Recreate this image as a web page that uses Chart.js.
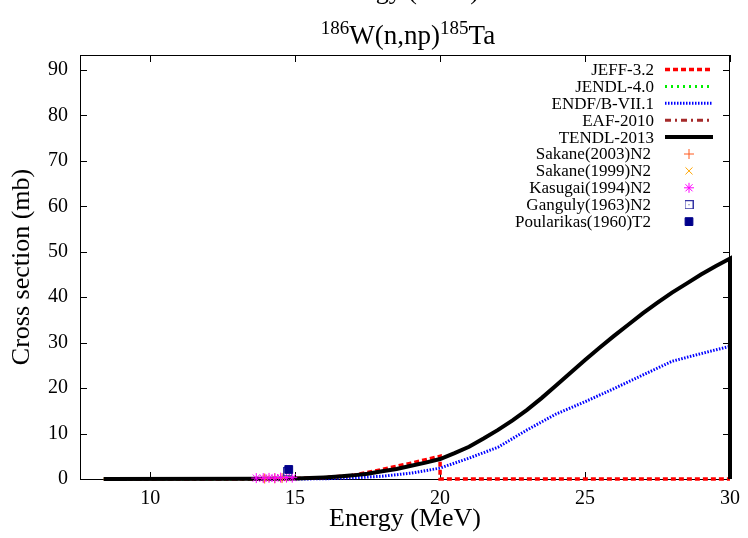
<!DOCTYPE html>
<html>
<head>
<meta charset="utf-8">
<script src="https://cdn.jsdelivr.net/npm/chart.js@4.4.0/dist/chart.umd.min.js"></script>
<style>
  html, body { margin:0; padding:0; background:#fff; }
</style>
</head>
<body>
<canvas id="chart" width="748" height="538"></canvas>
<script>
// tick labels
const xTicks = [10, 15, 20, 25, 30];
const yTicks = [0, 10, 20, 30, 40, 50, 60, 70, 80, 90];

// evaluations (energy in MeV, cross section in mb)
const jeffE  = [8.4, 15, 16, 17, 18, 19, 20, 20, 30];
const jeffXs = [0, 0.1, 0.3, 0.8, 2.1, 3.5, 5.0, 0, 0];
const jendlE  = [8.4, 14.5];
const jendlXs = [0, 0];
const endfE  = [15, 16, 17, 18, 19, 20, 21, 22, 23, 24, 25, 26, 27, 28, 29, 30];
const endfXs = [0, 0.05, 0.25, 0.6, 1.3, 2.4, 4.6, 7.0, 10.8, 14.3, 17.0, 19.9, 22.9, 25.9, 27.6, 29.2];
const eafE  = [8.4, 14.5];
const eafXs = [0, 0];
const tendlE  = [8.4, 14, 15, 15.5, 16, 16.5, 17, 17.5, 18, 18.5, 19, 19.5, 20, 20.5, 21, 21.5, 22, 22.5, 23, 23.5, 24, 24.5, 25, 25.5, 26, 26.5, 27, 27.5, 28, 28.5, 29, 29.5, 30, 30];
const tendlXs = [0, 0.03, 0.1, 0.2, 0.35, 0.55, 0.8, 1.15, 1.7, 2.2, 2.9, 3.6, 4.4, 5.7, 7.1, 8.9, 10.8, 12.9, 15.2, 17.8, 20.6, 23.4, 26.2, 28.9, 31.5, 34.0, 36.5, 38.8, 41.0, 43.0, 45.0, 46.8, 48.5, 0];

// measurements
const sakane03E  = [13.95, 14.3, 14.55];
const sakane03Xs = [0.1, 0.15, 0.2];
const sakane99E  = [14.0, 14.6];
const sakane99Xs = [0.1, 0.15];
const kasugaiE  = [13.66, 13.9, 14.1, 14.3, 14.5, 14.7, 14.9];
const kasugaiXs = [0.2, 0.2, 0.25, 0.2, 0.3, 0.3, 0.3];
const gangulyE  = [14.75];
const gangulyXs = [1.6];
const poulE  = [14.78];
const poulXs = [2.1];

const pts = (xs, ys) => xs.map((x, i) => ({x, y: ys[i]}));

// box with a dot for Ganguly
const gBox = document.createElement('canvas');
gBox.width = 9; gBox.height = 9;
const g = gBox.getContext('2d');
g.strokeStyle = '#3434a4'; g.lineWidth = 1;
g.strokeRect(0.5, 0.5, 8, 8);
g.fillStyle = '#3434a4'; g.fillRect(4, 4, 1, 1);

const line = (label, data, color, width, dash) => ({
  label, data, borderColor: color, backgroundColor: color, borderWidth: width,
  borderDash: dash, showLine: true, pointRadius: 0, tension: 0, clip: 6
});
const mark = (label, data, color, style, r, fill) => ({
  label, data, borderColor: color, backgroundColor: fill || 'transparent',
  pointStyle: style, pointRadius: r, pointBorderWidth: 1, showLine: false, clip: 6
});

const datasets = [
  line('JEFF-3.2', pts(jeffE, jeffXs), '#ff0000', 3.5, [5, 3]),
  line('JENDL-4.0', pts(jendlE, jendlXs), '#00ee00', 3, [2, 4]),
  line('ENDF/B-VII.1', pts(endfE, endfXs), '#0000ff', 3, [1.5, 1.5]),
  line('EAF-2010', pts(eafE, eafXs), '#a52a2a', 3, [6, 4, 2, 4]),
  line('TENDL-2013', pts(tendlE, tendlXs), '#000000', 4, []),
  mark('Sakane(2003)N2', pts(sakane03E, sakane03Xs), '#ff5a1e', 'cross', 5),
  mark('Sakane(1999)N2', pts(sakane99E, sakane99Xs), '#ffa500', 'crossRot', 5),
  mark('Kasugai(1994)N2', pts(kasugaiE, kasugaiXs), '#ff00ff', 'star', 5),
  mark('Ganguly(1963)N2', pts(gangulyE, gangulyXs), '#3434a4', gBox, 5),
  mark('Poularikas(1960)T2', pts(poulE, poulXs), '#00008b', 'rect', 5.5, '#00008b')
];
// later datasets on top, like gnuplot
datasets.forEach((d, i) => d.order = datasets.length - i);

const SERIF = "'Liberation Serif', 'DejaVu Serif', serif";

const framePlugin = {
  id: 'frame',
  beforeDatasetsDraw(chart) {
    const {ctx, chartArea: a, scales: {x, y}} = chart;
    ctx.save();
    ctx.strokeStyle = '#000'; ctx.lineWidth = 1;
    ctx.strokeRect(a.left + 0.5, a.top + 0.5, a.right - a.left - 1, a.bottom - a.top);
    ctx.beginPath();
    xTicks.forEach(v => {
      const px = Math.round(x.getPixelForValue(v)) + 0.5;
      ctx.moveTo(px, a.bottom); ctx.lineTo(px, a.bottom - 7);
      ctx.moveTo(px, a.top); ctx.lineTo(px, a.top + 7);
    });
    yTicks.forEach(v => {
      const py = Math.round(y.getPixelForValue(v)) + 0.5;
      ctx.moveTo(a.left, py); ctx.lineTo(a.left + 7, py);
      ctx.moveTo(a.right, py); ctx.lineTo(a.right - 7, py);
    });
    ctx.stroke();
    ctx.restore();
  },
  afterDraw(chart) {
    const {ctx} = chart;
    ctx.save();
    ctx.fillStyle = '#000';
    // cut-off label above the plot
    ctx.font = '26px ' + SERIF;
    ctx.textAlign = 'center'; ctx.textBaseline = 'alphabetic';
    ctx.fillText('Energy (MeV)', 403, -1);
    // title with superscripts
    const parts = [['186', 19, -10], ['W(n,np)', 27, 0], ['185', 19, -10], ['Ta', 27, 0]];
    let w = 0;
    parts.forEach(p => { ctx.font = p[1] + 'px ' + SERIF; w += ctx.measureText(p[0]).width; });
    let cx = 408 - w / 2;
    ctx.textAlign = 'left';
    parts.forEach(p => {
      ctx.font = p[1] + 'px ' + SERIF;
      ctx.fillText(p[0], cx, 44 + p[2]);
      cx += ctx.measureText(p[0]).width;
    });
    // legend
    ctx.font = '17px ' + SERIF;
    ctx.textAlign = 'right'; ctx.textBaseline = 'middle';
    chart.data.datasets.forEach((d, i) => {
      const ry = 69.5 + i * 16.9;
      ctx.fillStyle = '#000';
      ctx.fillText(d.label, d.showLine ? 654 : 651, ry + 1);
      if (d.showLine) {
        ctx.save();
        ctx.strokeStyle = d.borderColor; ctx.lineWidth = d.borderWidth;
        ctx.setLineDash(d.borderDash);
        ctx.beginPath(); ctx.moveTo(665, ry); ctx.lineTo(713, ry); ctx.stroke();
        ctx.restore();
      } else {
        ctx.save();
        ctx.strokeStyle = d.borderColor; ctx.fillStyle = d.backgroundColor; ctx.lineWidth = 1;
        Chart.helpers.drawPoint(ctx, {pointStyle: d.pointStyle, radius: d.pointRadius, borderWidth: 1, rotation: 0}, 689, ry);
        ctx.restore();
      }
    });
    ctx.restore();
  }
};

new Chart(document.getElementById('chart'), {
  type: 'scatter',
  data: { datasets },
  plugins: [framePlugin],
  options: {
    responsive: false,
    animation: false,
    layout: { padding: { left: 0, right: 14, top: 55, bottom: 0 } },
    plugins: { legend: { display: false }, tooltip: { enabled: false } },
    scales: {
      x: {
        type: 'linear', min: 7.58, max: 30,
        afterBuildTicks: s => { s.ticks = xTicks.map(v => ({value: v})); },
        afterFit: s => { s.height = 59; },
        grid: { display: false, drawTicks: false },
        border: { display: false },
        ticks: { color: '#000', padding: 8, maxRotation: 0, font: { family: SERIF, size: 20 } },
        title: { display: true, text: 'Energy (MeV)', color: '#000', padding: { top: 0, bottom: 3 }, font: { family: SERIF, size: 26 } }
      },
      y: {
        type: 'linear', min: 0, max: 93.3,
        afterBuildTicks: s => { s.ticks = yTicks.map(v => ({value: v})); },
        afterFit: s => { s.width = 80; },
        grid: { display: false, drawTicks: false },
        border: { display: false },
        ticks: { color: '#000', padding: 12, font: { family: SERIF, size: 20 } },
        title: { display: true, text: 'Cross section (mb)', color: '#000', padding: { top: 7, bottom: 0 }, font: { family: SERIF, size: 26 } }
      }
    }
  }
});
</script>
</body>
</html>
